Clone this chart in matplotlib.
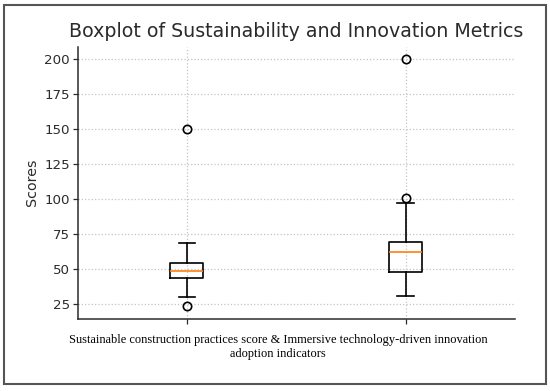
import matplotlib
matplotlib.use("Agg")
import matplotlib.pyplot as plt
from matplotlib.patches import Rectangle

# Summary statistics
labels = ["Sustainable construction", "Immersive technology"]
q1 = [43.8, 47.6]
median = [48.5, 62.0]
q3 = [54.0, 69.2]
whisker_low = [30.0, 31.0]
whisker_high = [68.3, 97.2]
outliers = [[150.0, 23.5], [200.0, 100.8]]

title = "Boxplot of Sustainability and Innovation Metrics"
ylabel = "Scores"
caption = ("Sustainable construction practices score & Immersive technology-driven innovation\n"
           "adoption indicators")
yticks = [25, 50, 75, 100, 125, 150, 175, 200]

stats = []
for i in range(len(labels)):
    stats.append(dict(label=labels[i], q1=q1[i], med=median[i], q3=q3[i],
                      whislo=whisker_low[i], whishi=whisker_high[i], fliers=outliers[i]))

fig = plt.figure(figsize=(5.5, 3.91), dpi=100)
ax = fig.add_axes([77.5 / 550, 1 - 318.5 / 391, (515 - 77.5) / 550, (318.5 - 47) / 391])

dark = "#2b2b2b"
lw = 1.2
ax.bxp(stats, positions=[1, 2], widths=0.15,
       boxprops=dict(color="black", linewidth=lw),
       whiskerprops=dict(color="black", linewidth=lw),
       capprops=dict(color="black", linewidth=lw),
       medianprops=dict(color="#ff7f0e", linewidth=lw),
       flierprops=dict(marker="o", markerfacecolor="none", markeredgecolor="black",
                       markersize=6, markeredgewidth=1.2))

ax.set_xlim(0.5, 2.5)
ax.set_ylim(14.7, 208.5)
ax.set_yticks(yticks)
ax.set_xticklabels(["", ""])
ax.grid(True, linestyle=":", color="#c4c4c4", linewidth=0.9)
ax.set_axisbelow(True)
for s in ["top", "right"]:
    ax.spines[s].set_visible(False)
for s in ["left", "bottom"]:
    ax.spines[s].set_color(dark)
    ax.spines[s].set_linewidth(1.1)
ax.tick_params(axis="y", labelsize=9.6, colors=dark, length=3.5, width=0.9, pad=2)
ax.tick_params(axis="x", colors=dark, length=3.5, width=0.9)
ax.set_ylabel(ylabel, fontsize=10.3, color=dark, labelpad=4)
ax.set_title(title, fontsize=13.7, color=dark, pad=7)

fig.text(278 / 550, 1 - 347 / 391, caption, ha="center", va="center",
         family="Liberation Serif", fontsize=8.9, color="black", linespacing=1.25)

fig.patches.append(Rectangle((4 / 550, 1 - 384 / 391), 542 / 550, 379 / 391,
                             transform=fig.transFigure, fill=False,
                             edgecolor="#555555", linewidth=1.5))

fig.savefig("out.png", dpi=100)
